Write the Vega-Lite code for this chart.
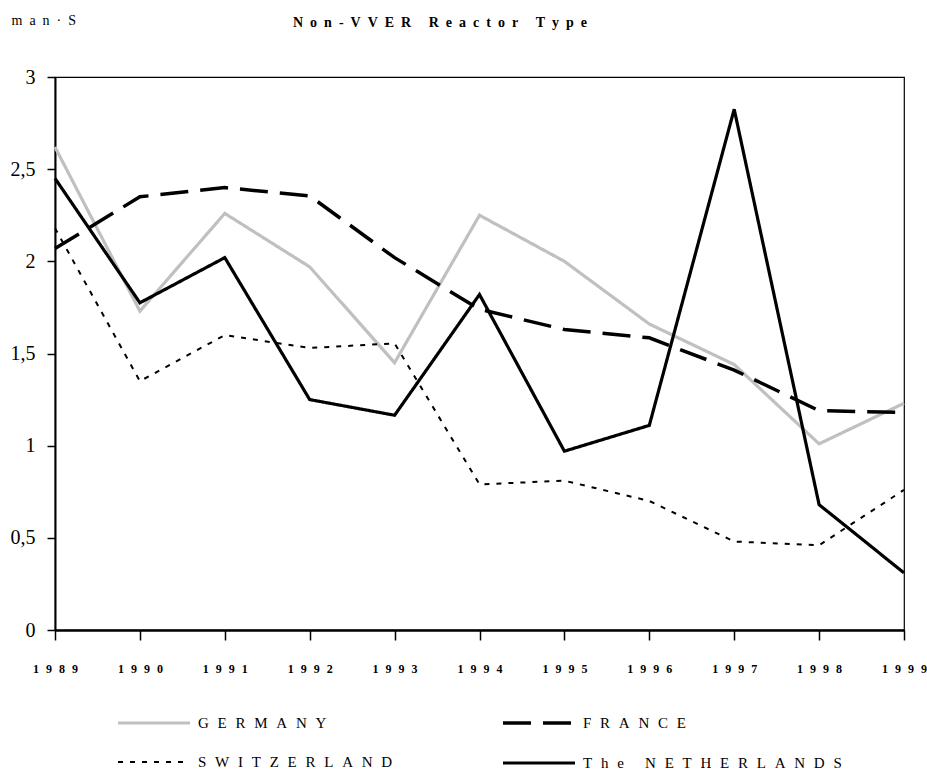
{
  "$schema": "https://vega.github.io/schema/vega-lite/v6.json",
  "autosize": "none",
  "width": 849,
  "height": 553,
  "padding": {"left": 55, "top": 77, "right": 23, "bottom": 141},
  "background": "white",
  "title": {
    "text": {"expr": "join(split('Non-VVER Reactor Type', ''), '\u00a0\u00a0')"},
    "font": "Liberation Serif",
    "fontSize": 14,
    "fontWeight": "bold",
    "color": "black",
    "anchor": "start",
    "frame": "group",
    "dx": 238,
    "offset": -17
  },
  "config": {
    "view": {"stroke": "black", "strokeWidth": 1.2},
    "axis": {"grid": false, "domainColor": "black", "tickColor": "black", "labelColor": "black", "titleColor": "black"}
  },
  "data": {
    "values": [
      {"year": 1989, "country": "GERMANY", "value": 2.62},
      {"year": 1990, "country": "GERMANY", "value": 1.73},
      {"year": 1991, "country": "GERMANY", "value": 2.26},
      {"year": 1992, "country": "GERMANY", "value": 1.97},
      {"year": 1993, "country": "GERMANY", "value": 1.45},
      {"year": 1994, "country": "GERMANY", "value": 2.25},
      {"year": 1995, "country": "GERMANY", "value": 2.0},
      {"year": 1996, "country": "GERMANY", "value": 1.66},
      {"year": 1997, "country": "GERMANY", "value": 1.44},
      {"year": 1998, "country": "GERMANY", "value": 1.01},
      {"year": 1999, "country": "GERMANY", "value": 1.23},
      {"year": 1989, "country": "FRANCE", "value": 2.07},
      {"year": 1990, "country": "FRANCE", "value": 2.35},
      {"year": 1991, "country": "FRANCE", "value": 2.4},
      {"year": 1992, "country": "FRANCE", "value": 2.355},
      {"year": 1993, "country": "FRANCE", "value": 2.02},
      {"year": 1994, "country": "FRANCE", "value": 1.74},
      {"year": 1995, "country": "FRANCE", "value": 1.63},
      {"year": 1996, "country": "FRANCE", "value": 1.585},
      {"year": 1997, "country": "FRANCE", "value": 1.41},
      {"year": 1998, "country": "FRANCE", "value": 1.19},
      {"year": 1999, "country": "FRANCE", "value": 1.18},
      {"year": 1989, "country": "SWITZERLAND", "value": 2.18},
      {"year": 1990, "country": "SWITZERLAND", "value": 1.35},
      {"year": 1991, "country": "SWITZERLAND", "value": 1.6},
      {"year": 1992, "country": "SWITZERLAND", "value": 1.53},
      {"year": 1993, "country": "SWITZERLAND", "value": 1.555},
      {"year": 1994, "country": "SWITZERLAND", "value": 0.79},
      {"year": 1995, "country": "SWITZERLAND", "value": 0.81},
      {"year": 1996, "country": "SWITZERLAND", "value": 0.7},
      {"year": 1997, "country": "SWITZERLAND", "value": 0.48},
      {"year": 1998, "country": "SWITZERLAND", "value": 0.46},
      {"year": 1999, "country": "SWITZERLAND", "value": 0.76},
      {"year": 1989, "country": "The NETHERLANDS", "value": 2.45},
      {"year": 1990, "country": "The NETHERLANDS", "value": 1.775},
      {"year": 1991, "country": "The NETHERLANDS", "value": 2.02},
      {"year": 1992, "country": "The NETHERLANDS", "value": 1.25},
      {"year": 1993, "country": "The NETHERLANDS", "value": 1.165},
      {"year": 1994, "country": "The NETHERLANDS", "value": 1.82},
      {"year": 1995, "country": "The NETHERLANDS", "value": 0.97},
      {"year": 1996, "country": "The NETHERLANDS", "value": 1.11},
      {"year": 1997, "country": "The NETHERLANDS", "value": 2.825},
      {"year": 1998, "country": "The NETHERLANDS", "value": 0.68},
      {"year": 1999, "country": "The NETHERLANDS", "value": 0.31}
    ]
  },
  "mark": {"type": "line", "strokeCap": "butt", "strokeJoin": "miter"},
  "encoding": {
    "x": {
      "field": "year",
      "type": "quantitative",
      "scale": {"domain": [1989, 1999], "nice": false, "zero": false},
      "axis": {
        "title": null,
        "values": [1989, 1990, 1991, 1992, 1993, 1994, 1995, 1996, 1997, 1998, 1999],
        "labelExpr": "join(split(datum.value + '', ''), '\u00a0\u00a0\u200a')",
        "labelFont": "Liberation Serif",
        "labelFontSize": 12,
        "labelFontWeight": "bold",
        "labelPadding": 23,
        "labelOverlap": false,
        "labelFlush": false,
        "tickSize": 10,
        "tickWidth": 1.5,
        "domainWidth": 2.5
      }
    },
    "y": {
      "field": "value",
      "type": "quantitative",
      "scale": {"domain": [0, 3], "nice": false},
      "axis": {
        "title": "m\u00a0\u00a0a\u00a0\u00a0n\u00a0\u00a0·\u00a0\u00a0S",
        "titleAngle": 0,
        "titleFont": "Liberation Serif",
        "titleFontSize": 14,
        "titleFontWeight": "normal",
        "titleAlign": "left",
        "titleBaseline": "middle",
        "titleX": -44,
        "titleY": -57,
        "values": [0, 0.5, 1, 1.5, 2, 2.5, 3],
        "labelExpr": "replace(format(datum.value, '~g'), '.', ',')",
        "labelFont": "Liberation Serif",
        "labelFontSize": 20,
        "labelPadding": 12,
        "tickSize": 8,
        "tickWidth": 1.5,
        "domainWidth": 2
      }
    },
    "color": {
      "field": "country",
      "type": "nominal",
      "sort": ["GERMANY", "FRANCE", "SWITZERLAND", "The NETHERLANDS"],
      "scale": {"domain": ["GERMANY", "FRANCE", "SWITZERLAND", "The NETHERLANDS"], "range": ["#c0c0c0", "#000000", "#000000", "#000000"]},
      "legend": {
        "title": null,
        "orient": "none",
        "legendX": 79,
        "legendY": 626,
        "direction": "horizontal",
        "columns": 2,
        "columnPadding": 103,
        "rowPadding": 12,
        "symbolType": "M-2,0H2",
        "symbolSize": 1296,
        "labelFont": "Liberation Serif",
        "labelFontSize": 15,
        "labelColor": "black",
        "labelOffset": 24,
        "labelExpr": "join(split(datum.label, ''), '\u00a0\u00a0\u200a')",
        "labelLimit": 400
      }
    },
    "strokeDash": {
      "field": "country",
      "type": "nominal",
      "sort": ["GERMANY", "FRANCE", "SWITZERLAND", "The NETHERLANDS"],
      "scale": {"domain": ["GERMANY", "FRANCE", "SWITZERLAND", "The NETHERLANDS"], "range": [[1, 0], [28, 12], [5, 7], [1, 0]]}
    },
    "strokeWidth": {
      "field": "country",
      "type": "nominal",
      "sort": ["GERMANY", "FRANCE", "SWITZERLAND", "The NETHERLANDS"],
      "scale": {"type": "ordinal", "domain": ["GERMANY", "FRANCE", "SWITZERLAND", "The NETHERLANDS"], "range": [3.2, 3.5, 2, 3.2]}
    }
  }
}
